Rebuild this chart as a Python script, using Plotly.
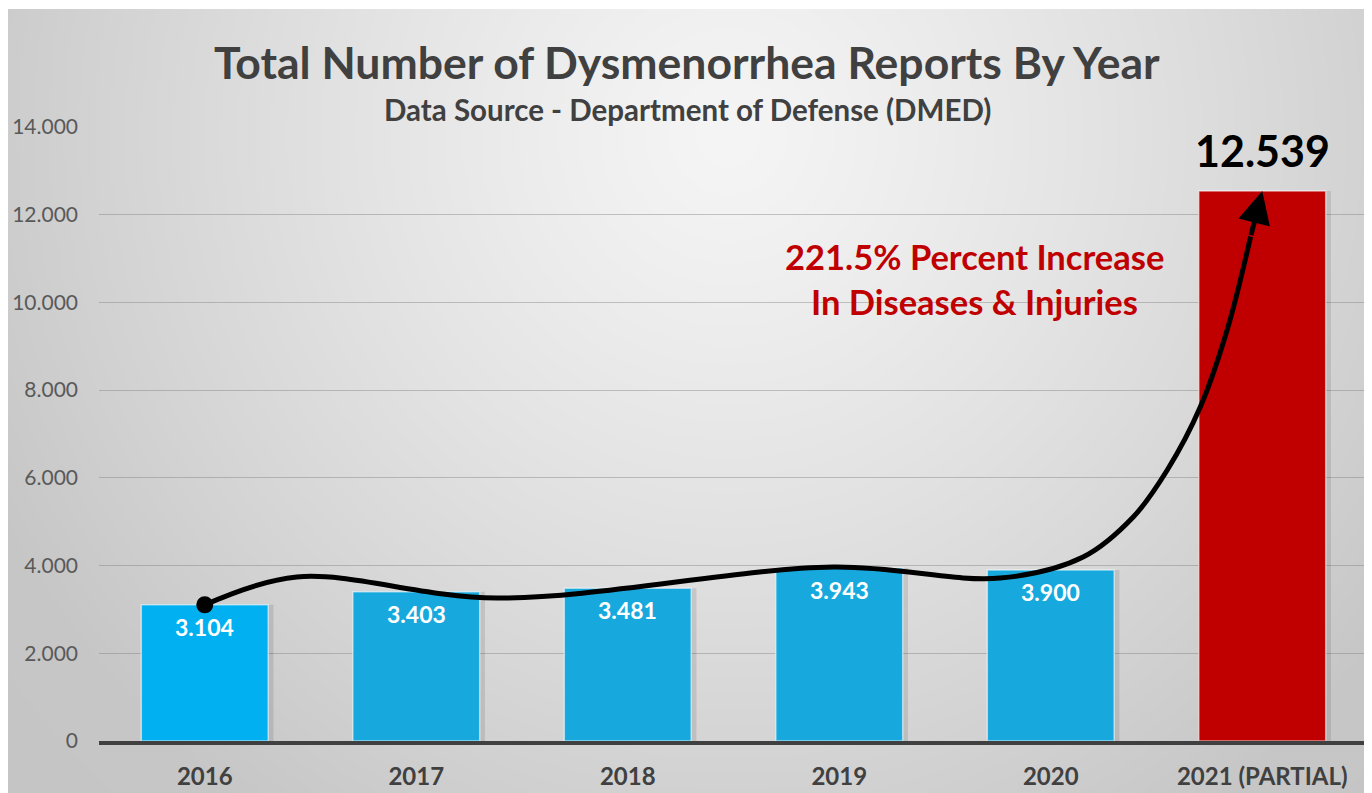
import base64
import struct
import zlib

import numpy as np
import plotly.graph_objects as go

# ---------------- data ----------------
years = ["2016", "2017", "2018", "2019", "2020", "2021 (PARTIAL)"]
reports = [3104, 3403, 3481, 3943, 3900, 12539]
bar_colors = ["#00B0F0", "#17A9DE", "#17A9DE", "#17A9DE", "#17A9DE", "#C00000"]
y_ticks = [0, 2000, 4000, 6000, 8000, 10000, 12000, 14000]

# trend arrow path (category index, value)
curve_x = [0.0, 0.435, 1.381, 2.971, 3.761, 4.153, 4.39, 4.551, 4.707, 4.834, 4.945]
curve_y = [3104, 3739, 3260, 3967, 3716, 4195, 5107, 6179, 7615, 9371, 11500]

title_text = "Total Number of Dysmenorrhea Reports By Year"
subtitle_text = "Data Source - Department of Defense (DMED)"
note_lines = ["221.5% Percent Increase", "In Diseases & Injuries"]

FONT = "Lato"
x_idx = list(range(len(years)))


# ---------------- background gradient (PNG) ----------------
def make_png(gray):
    h, w = gray.shape
    raw = b"".join(b"\x00" + gray[i].tobytes() for i in range(h))

    def chunk(tag, data):
        c = tag + data
        return struct.pack(">I", len(data)) + c + struct.pack(">I", zlib.crc32(c) & 0xFFFFFFFF)

    ihdr = struct.pack(">IIBBBBB", w, h, 8, 0, 0, 0, 0)
    png = b"\x89PNG\r\n\x1a\n" + chunk(b"IHDR", ihdr) + chunk(b"IDAT", zlib.compress(raw, 9)) + chunk(b"IEND", b"")
    return "data:image/png;base64," + base64.b64encode(png).decode()


GW, GH = 680, 392
gx, gy = np.meshgrid(np.arange(GW), np.arange(GH))
dx = (gx - 0.53 * GW) / (0.6 * GW)
dy = (gy - 0.16 * GH) / (1.05 * GH)
r = np.sqrt(dx ** 2 + dy ** 2)
val = 245 - 46 * np.minimum(r, 1.0) ** 1.2 - 10 * np.maximum(r - 1.0, 0)
bg_uri = make_png(np.clip(val, 0, 255).astype(np.uint8))

# ---------------- figure ----------------
fig = go.Figure()

# soft shadow behind bars
fig.add_trace(go.Bar(
    x=x_idx, y=reports, width=0.6, offset=-0.3 + 0.025,
    marker=dict(color="rgba(0,0,0,0.10)", line=dict(width=0)),
    hoverinfo="skip", showlegend=False,
))

fig.add_trace(go.Bar(
    x=x_idx, y=reports, width=0.6, offset=-0.3,
    marker=dict(color=bar_colors, line=dict(color="rgba(255,255,255,0.55)", width=1.5)),
    showlegend=False,
))

fig.add_trace(go.Scatter(
    x=curve_x, y=curve_y, mode="lines",
    line=dict(color="black", width=5, shape="spline", smoothing=1.0),
    hoverinfo="skip", showlegend=False,
))
fig.add_trace(go.Scatter(
    x=[curve_x[0]], y=[curve_y[0]], mode="markers",
    marker=dict(color="black", size=17),
    hoverinfo="skip", showlegend=False,
))

annotations = []
# arrow head
annotations.append(dict(
    x=x_idx[-1], y=reports[-1], xref="x", yref="y",
    ax=curve_x[-1], ay=curve_y[-1], axref="x", ayref="y",
    showarrow=True, arrowhead=2, arrowsize=1.3, arrowwidth=5, arrowcolor="black", text="",
))

# value labels
for i, v in enumerate(reports[:-1]):
    annotations.append(dict(
        x=i, y=v, xref="x", yref="y", text=f"{v:,}".replace(",", "."),
        showarrow=False, yanchor="top", yshift=-6,
        font=dict(family=FONT, size=23, color="white", weight="bold"),
    ))
annotations.append(dict(
    x=x_idx[-1], y=reports[-1], xref="x", yref="y", text=f"{reports[-1]:,}".replace(",", "."),
    showarrow=False, yanchor="middle", yshift=41,
    font=dict(family=FONT, size=43, color="black", weight="bold"),
))

# titles
annotations.append(dict(
    x=0.4634, y=1.1059, xref="paper", yref="paper", text=title_text, showarrow=False,
    xanchor="center", yanchor="middle",
    font=dict(family=FONT, size=44.5, color="#404040", weight="bold"),
))
annotations.append(dict(
    x=0.4634, y=1.0293, xref="paper", yref="paper", text=subtitle_text, showarrow=False,
    xanchor="center", yanchor="middle",
    font=dict(family=FONT, size=29.5, color="#404040", weight="bold"),
))

# red note
for txt, yv in zip(note_lines, [11058, 10032]):
    annotations.append(dict(
        x=3.638, y=yv, xref="x", yref="y", text=txt, showarrow=False,
        xanchor="center", yanchor="middle",
        font=dict(family=FONT, size=34.5, color="#C00000", weight="bold"),
    ))

W_PLOT = 1269
H_PLOT = 614
# page body has an 8px margin; margins compensate so the plot lands at x 99..1368, y 127..741
fig.update_layout(
    width=1372, height=793,
    margin=dict(l=91, r=12, t=119, b=60, pad=0, autoexpand=False),
    paper_bgcolor="white",
    plot_bgcolor="rgba(0,0,0,0)",
    barmode="overlay",
    separators=",.",
    showlegend=False,
    annotations=annotations,
    images=[dict(
        source=bg_uri, xref="paper", yref="paper",
        x=(6 - 99) / W_PLOT, y=(741 - 9) / H_PLOT,
        sizex=1361 / W_PLOT, sizey=784 / H_PLOT,
        xanchor="left", yanchor="top", sizing="stretch", layer="below",
    )],
    xaxis=dict(
        range=[-0.5, 5.5], tickmode="array", tickvals=x_idx, ticktext=years,
        showgrid=False, zeroline=False, showline=True, linecolor="#404040", linewidth=4,
        ticks="", ticklabelstandoff=11, automargin=False,
        tickfont=dict(family=FONT, size=24, color="#404040", weight="bold"),
        fixedrange=True,
    ),
    yaxis=dict(
        range=[0, 14000], tickmode="array", tickvals=y_ticks, tickformat=",.0f",
        showgrid=True, gridcolor="rgba(120,120,120,0.4)", gridwidth=1.3,
        zeroline=False, showline=False, ticks="", ticklabelstandoff=20, automargin=False,
        tickfont=dict(family=FONT, size=21, color="#595959"),
        fixedrange=True,
    ),
)

fig.write_html("out.html")
